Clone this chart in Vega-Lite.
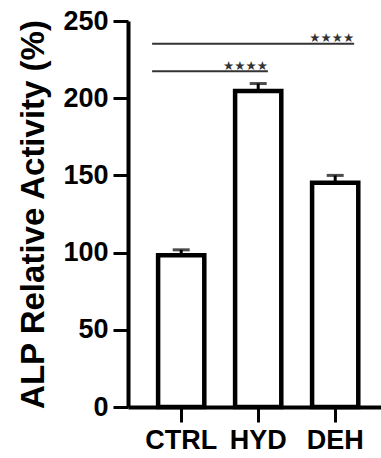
{
  "$schema": "https://vega.github.io/schema/vega-lite/v6.json",
  "autosize": {"type": "none"},
  "padding": {"left": 128, "top": 21, "right": 0, "bottom": 51},
  "width": 253,
  "height": 386,
  "background": "white",
  "config": {
    "view": {"stroke": null},
    "font": "Liberation Sans",
    "axis": {"labelFont": "Liberation Sans", "titleFont": "Liberation Sans", "grid": false, "domainColor": "black", "tickColor": "black", "labelColor": "black", "titleColor": "black"}
  },
  "datasets": {
    "bars": [
      {"group": "CTRL", "value": 98.3, "upper": 101.8},
      {"group": "HYD", "value": 204.6, "upper": 209.5},
      {"group": "DEH", "value": 145.3, "upper": 150}
    ],
    "sig1": [{"from": "CTRL", "to": "DEH", "y": 235.2, "label": "★★★★"}],
    "sig2": [{"from": "CTRL", "to": "HYD", "y": 217.4, "label": "★★★★"}]
  },
  "layer": [
    {
      "data": {"name": "bars"},
      "mark": {"type": "rule", "color": "black", "strokeWidth": 3},
      "encoding": {
        "x": {"field": "group", "type": "nominal",
          "scale": {"domain": ["CTRL", "HYD", "DEH"], "paddingInner": 0.4, "paddingOuter": 0.343, "align": 0.57},
          "axis": {"title": null, "labelAngle": 0, "labelFontSize": 27, "labelFontWeight": "bold", "labelPadding": 5, "tickSize": 15, "tickWidth": 3, "domainWidth": 4}},
        "y": {"field": "value", "type": "quantitative",
          "scale": {"domain": [0, 250], "nice": false},
          "axis": {"title": "ALP Relative Activity (%)", "values": [0, 50, 100, 150, 200, 250], "labelFontSize": 27, "labelFontWeight": "bold", "labelPadding": 5, "tickSize": 15, "tickWidth": 3, "domainWidth": 4, "titleFontSize": 33, "titleFontWeight": "bold", "titlePadding": 12}},
        "y2": {"field": "upper"}
      }
    },
    {
      "data": {"name": "bars"},
      "mark": {"type": "tick", "color": "black", "size": 17, "thickness": 3},
      "encoding": {
        "x": {"field": "group", "type": "nominal"},
        "y": {"field": "upper", "type": "quantitative"}
      }
    },
    {
      "data": {"name": "bars"},
      "mark": {"type": "bar", "fill": "white", "stroke": "black", "strokeWidth": 4.5},
      "encoding": {
        "x": {"field": "group", "type": "nominal"},
        "y": {"field": "value", "type": "quantitative"}
      }
    },
    {
      "data": {"name": "sig1"},
      "mark": {"type": "rule", "color": "#333333", "strokeWidth": 2},
      "encoding": {
        "x": {"field": "from", "type": "nominal", "bandPosition": -0.13},
        "x2": {"field": "to", "bandPosition": 0.91},
        "y": {"field": "y", "type": "quantitative"}
      }
    },
    {
      "data": {"name": "sig1"},
      "mark": {"type": "text", "color": "#333333", "font": "DejaVu Sans", "fontSize": 12.5, "align": "right", "baseline": "alphabetic", "dy": -2},
      "encoding": {
        "x": {"field": "to", "type": "nominal", "bandPosition": 0.91},
        "y": {"field": "y", "type": "quantitative"},
        "text": {"field": "label"}
      }
    },
    {
      "data": {"name": "sig2"},
      "mark": {"type": "rule", "color": "#333333", "strokeWidth": 2},
      "encoding": {
        "x": {"field": "from", "type": "nominal", "bandPosition": -0.13},
        "x2": {"field": "to", "bandPosition": 0.71},
        "y": {"field": "y", "type": "quantitative"}
      }
    },
    {
      "data": {"name": "sig2"},
      "mark": {"type": "text", "color": "#333333", "font": "DejaVu Sans", "fontSize": 12.5, "align": "right", "baseline": "alphabetic", "dy": -1},
      "encoding": {
        "x": {"field": "to", "type": "nominal", "bandPosition": 0.71},
        "y": {"field": "y", "type": "quantitative"},
        "text": {"field": "label"}
      }
    }
  ]
}
